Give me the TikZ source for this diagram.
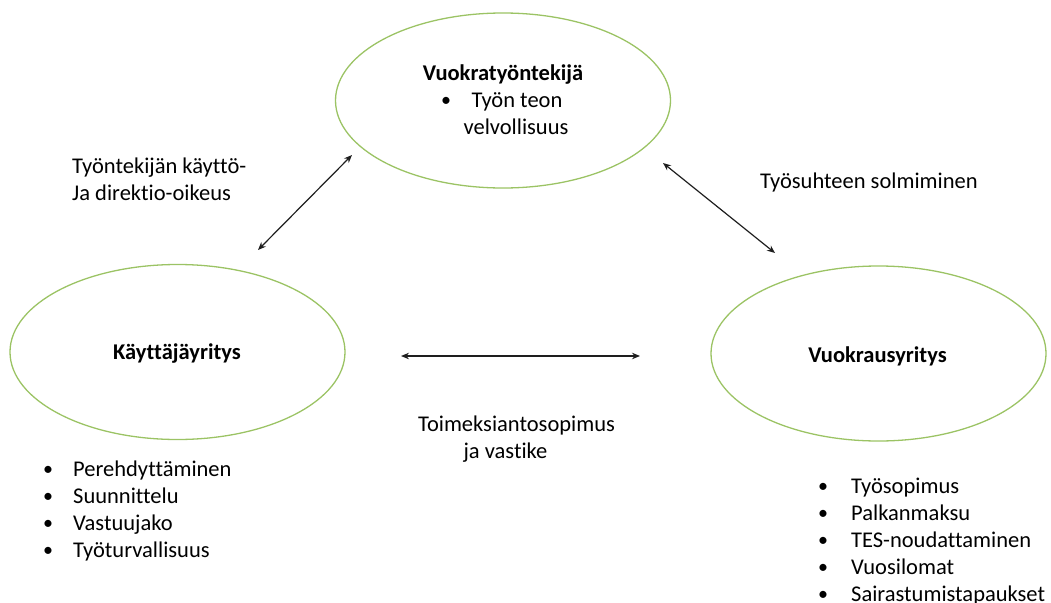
\documentclass[tikz,border=0pt]{standalone}
\usepackage{fontspec}
\setmainfont{Carlito}[Ligatures={NoCommon}]
\usetikzlibrary{arrows.meta,shapes.geometric}
\definecolor{ringgreen}{RGB}{155,195,100}
\definecolor{inkgray}{RGB}{30,30,30}

\begin{document}
\begin{tikzpicture}[x=1pt,y=-1pt,
  party/.style={draw=ringgreen,line width=1.3pt,ellipse,minimum width=335pt,minimum height=175pt,inner sep=0pt},
  txt/.style={anchor=base west,inner sep=0pt,font=\fontsize{22.5}{27}\selectfont},
  ctxt/.style={anchor=base,inner sep=0pt,font=\fontsize{22.5}{27}\selectfont},
  head/.style={anchor=base,inner sep=0pt,font=\fontsize{22.5}{27}\selectfont\bfseries},
  dot/.style={anchor=base west,inner sep=0pt,font=\fontsize{20}{27}\selectfont},
  link/.style={draw=inkgray,line width=1.2pt,{Stealth[length=8pt,width=6.5pt]}-{Stealth[length=8pt,width=6.5pt]}}]
   \useasboundingbox (0,0) rectangle (1051,602);
   \clip (0,0) rectangle (1051,602);
   % the three parties
   \node[party] (worker) at (503,100.5) {};
   \node[party] (user) at (177.5,352) {};
   \node[party] (agency) at (878.5,353.5) {};
   \node[head] (workerhd) at (503,80) {Vuokratyöntekijä};
   \node[head] (userhd) at (177,359) {Käyttäjäyritys};
   \node[head] (agencyhd) at (877.5,362) {Vuokrausyritys};
   \node[dot] (wb) at (441,106) {\textbullet};
   \node[ctxt] (w1) at (517,107) {Työn teon};
   \node[ctxt] (w2) at (516,134) {velvollisuus};
   % arrows between them
   \coordinate (la) at (258,250); \coordinate (lb) at (352,155);
   \coordinate (ra) at (663,163); \coordinate (rb) at (775,253);
   \coordinate (ha) at (401,356); \coordinate (hb) at (640,356);
   \draw[link] (la) -- (lb);
   \draw[link] (ra) -- (rb);
   \draw[link] (ha) -- (hb);
   \node[txt] (l1) at (72,173) {Työntekijän käyttö-};
   \node[txt] (l2) at (72,200) {Ja direktio-oikeus};
   \node[txt] (r1) at (760,188) {Työsuhteen solmiminen};
   \node[ctxt] (h1) at (516.5,431) {Toimeksiantosopimus};
   \node[ctxt] (h2) at (505.5,458) {ja vastike};
   % duties
   \foreach \t [count=\i] in {Perehdyttäminen,Suunnittelu,Vastuujako,Työturvallisuus}{
     \node[dot] (ub\i) at (43,448+27*\i) {\textbullet};
     \node[txt] (u\i) at (73,449+27*\i) {\t};
   }
   \foreach \t [count=\i] in {Työsopimus,Palkanmaksu,TES-noudattaminen,Vuosilomat,Sairastumistapaukset}{
     \node[dot] (ab\i) at (818,465+27*\i) {\textbullet};
     \node[txt] (a\i) at (851,466+27*\i) {\t};
   }
\end{tikzpicture}
\end{document}
